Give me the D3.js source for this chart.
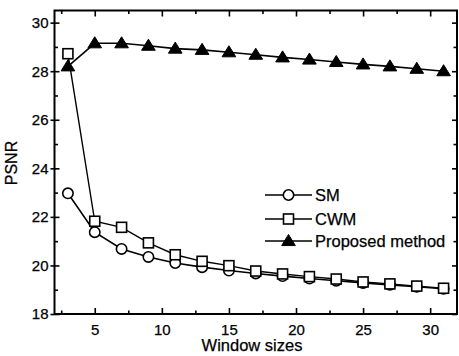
<!DOCTYPE html>
<html>
<head>
<meta charset="utf-8">
<script src="https://cdn.jsdelivr.net/npm/d3@7"></script>
<style>
  html, body { margin: 0; padding: 0; background: #fff; }
  svg { display: block; }
  text { font-family: "Liberation Sans", Arial, sans-serif; fill: #000; stroke: #000; stroke-width: 0.25; }
</style>
</head>
<body>
<svg id="chart" width="459" height="356"></svg>
<script>
// ---- data ----
const windowSizes = [3, 5, 7, 9, 11, 13, 15, 17, 19, 21, 23, 25, 27, 29, 31];
const smValues = [22.97, 21.37, 20.68, 20.35, 20.10, 19.93, 19.79, 19.67, 19.56, 19.46, 19.37, 19.28, 19.20, 19.12, 19.04];
const cwmValues = [28.72, 21.82, 21.57, 20.93, 20.44, 20.17, 19.99, 19.77, 19.65, 19.54, 19.44, 19.32, 19.24, 19.15, 19.06];
const proposedValues = [28.20, 29.15, 29.15, 29.05, 28.93, 28.88, 28.78, 28.68, 28.57, 28.48, 28.38, 28.28, 28.20, 28.10, 28.00];
const seriesNames = ["SM", "CWM", "Proposed method"];
const xTickLabels = [5, 10, 15, 20, 25, 30];
const yTickLabels = [18, 20, 22, 24, 26, 28, 30];
const xLabel = "Window sizes";
const yLabel = "PSNR";

// ---- layout ----
const svg = d3.select("#chart");
const pLeft = 54.5, pRight = 457, pTop = 10.5, pBottom = 314;
const x = d3.scaleLinear().domain([2, 32]).range([pLeft, pRight]);
const y = d3.scaleLinear().domain([18, 30.5]).range([pBottom, pTop]);

const xMinor = d3.range(2.5, 32, 2.5).filter(v => !xTickLabels.includes(v));
const yMinor = d3.range(19, 31, 2);

const axisStyle = g => {
  g.select(".domain").remove();
  g.selectAll("line").attr("stroke", "#000").attr("stroke-width", 1.6);
  g.selectAll("text").attr("font-size", 15).attr("font-family", "Liberation Sans, Arial, sans-serif");
};

// bottom axis (inward ticks)
svg.append("g").attr("transform", `translate(0,${pBottom})`)
  .call(d3.axisBottom(x).tickValues(xTickLabels).tickSize(-6).tickPadding(10).tickFormat(d3.format("d")))
  .call(axisStyle);
svg.append("g").attr("transform", `translate(0,${pBottom})`)
  .call(d3.axisBottom(x).tickValues(xMinor).tickSize(-3.5).tickFormat(""))
  .call(axisStyle);
// top axis
svg.append("g").attr("transform", `translate(0,${pTop})`)
  .call(d3.axisTop(x).tickValues(xTickLabels).tickSize(-6).tickFormat(""))
  .call(axisStyle);
svg.append("g").attr("transform", `translate(0,${pTop})`)
  .call(d3.axisTop(x).tickValues(xMinor).tickSize(-3.5).tickFormat(""))
  .call(axisStyle);
// left axis
svg.append("g").attr("transform", `translate(${pLeft},0)`)
  .call(d3.axisLeft(y).tickValues(yTickLabels).tickSizeInner(-5).tickSizeOuter(0).tickPadding(6).tickFormat(d3.format("d")))
  .call(axisStyle)
  .call(g => g.selectAll(".tick line").attr("x1", -4).attr("x2", 5))
  .call(g => g.selectAll(".tick text").attr("x", -6));
svg.append("g").attr("transform", `translate(${pLeft},0)`)
  .call(d3.axisLeft(y).tickValues(yMinor).tickSize(-3.5).tickFormat(""))
  .call(axisStyle);
// right axis
svg.append("g").attr("transform", `translate(${pRight},0)`)
  .call(d3.axisRight(y).tickValues(yTickLabels).tickSize(-5).tickFormat(""))
  .call(axisStyle);
svg.append("g").attr("transform", `translate(${pRight},0)`)
  .call(d3.axisRight(y).tickValues(yMinor).tickSize(-3.5).tickFormat(""))
  .call(axisStyle);

// frame
svg.append("rect").attr("x", pLeft).attr("y", pTop)
  .attr("width", pRight - pLeft).attr("height", pBottom - pTop)
  .attr("fill", "none").attr("stroke", "#000").attr("stroke-width", 2);

// axis titles
svg.append("text").attr("x", 252).attr("y", 351).attr("text-anchor", "middle")
  .attr("font-size", 16.5).text(xLabel);
svg.append("text").attr("transform", `translate(17,${163}) rotate(-90)`)
  .attr("text-anchor", "middle").attr("font-size", 16).text(yLabel);

// ---- series ----
const line = d3.line().x(d => x(d[0])).y(d => y(d[1]));
const series = [
  { name: seriesNames[0], values: smValues, marker: "circle", width: 1.6 },
  { name: seriesNames[1], values: cwmValues, marker: "square", width: 1.4 },
  { name: seriesNames[2], values: proposedValues, marker: "triangle", width: 1.6 }
];

function drawMarker(g, type, cx, cy) {
  if (type === "circle") {
    g.append("circle").attr("cx", cx).attr("cy", cy).attr("r", 5.2)
      .attr("fill", "#fff").attr("stroke", "#000").attr("stroke-width", 1.6);
  } else if (type === "square") {
    g.append("rect").attr("x", cx - 5).attr("y", cy - 5).attr("width", 10).attr("height", 10)
      .attr("fill", "#fff").attr("stroke", "#000").attr("stroke-width", 1.6);
  } else {
    const s = 6.5;
    g.append("path").attr("d", `M${cx},${cy - s} L${cx + s * 1.05},${cy + s * 0.7} L${cx - s * 1.05},${cy + s * 0.7} Z`)
      .attr("fill", "#000").attr("stroke", "#000").attr("stroke-width", 1);
  }
}

series.forEach(s => {
  const pts = windowSizes.map((w, i) => [w, s.values[i]]);
  svg.append("path").datum(pts).attr("d", line)
    .attr("fill", "none").attr("stroke", "#000").attr("stroke-width", s.width);
});
series.forEach(s => {
  const g = svg.append("g");
  windowSizes.forEach((w, i) => drawMarker(g, s.marker, x(w), y(s.values[i])));
});

// ---- legend ----
const legendY = [195, 219, 241];
series.forEach((s, i) => {
  const g = svg.append("g");
  g.append("line").attr("x1", 265).attr("x2", 312).attr("y1", legendY[i]).attr("y2", legendY[i])
    .attr("stroke", "#000").attr("stroke-width", s.width);
  drawMarker(g, s.marker, 288.5, legendY[i]);
  g.append("text").attr("x", 315).attr("y", legendY[i] + 5.5).attr("font-size", 16.5).text(s.name);
});
</script>
</body>
</html>
